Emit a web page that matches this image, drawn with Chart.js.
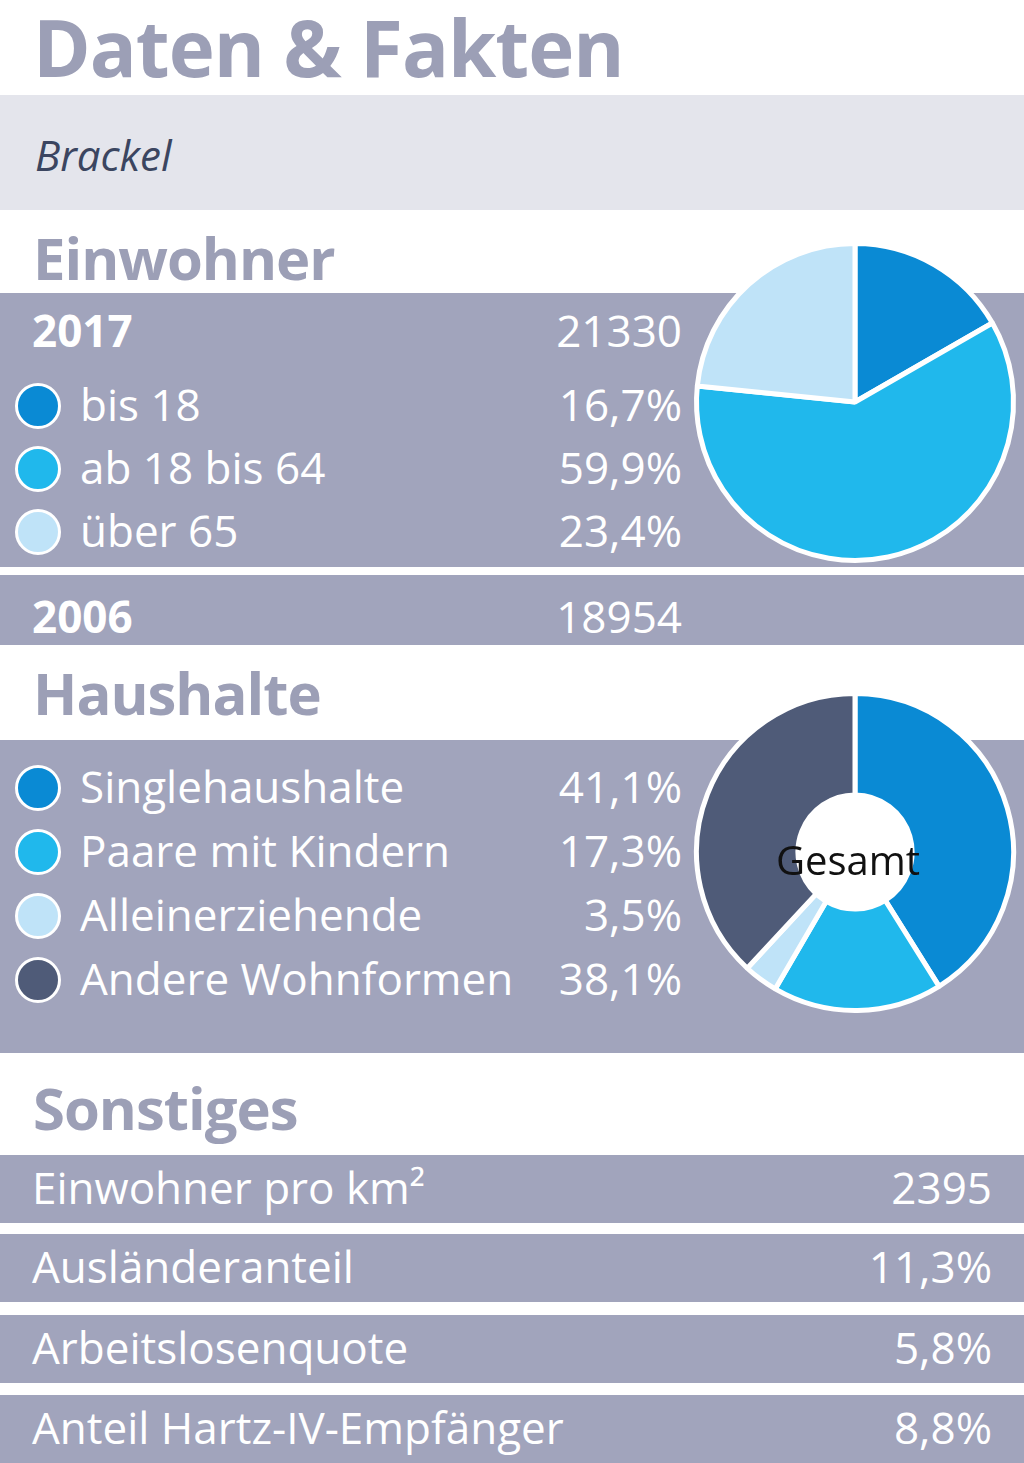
<!DOCTYPE html>
<html><head><meta charset="utf-8">
<script src="https://cdn.jsdelivr.net/npm/chart.js@4/dist/chart.umd.min.js"></script>
<style>
body{margin:0;width:1024px;height:1463px;background:#fff;font-family:"Open Sans","Noto Sans",sans-serif;position:relative;overflow:hidden}
.abs{position:absolute}
.h{color:#9c9fb6;font-weight:700;font-size:58px;left:33px;letter-spacing:-1px}
.band{background:#a1a4bc;left:0;width:1024px}
.w{color:#fff;font-size:44px;position:absolute;white-space:nowrap}
.dot{position:absolute;width:40px;height:40px;border-radius:50%;border:3px solid #fff;left:15px}
</style></head><body>
<div class="abs h" style="top:-6px;font-size:78px">Daten &amp; Fakten</div>
<div class="abs" style="top:95px;height:115px;left:0;width:1024px;background:#e4e5ec"></div>
<div class="abs" style="top:126px;left:35px;font-size:42px;font-style:italic;color:#3b4560">Brackel</div>
<div class="abs h" style="top:218px">Einwohner</div>
<div class="abs band" style="top:293px;height:274px"></div>
<div class="abs band" style="top:575px;height:70px"></div>
<div class="abs h" style="top:653px">Haushalte</div>
<div class="abs band" style="top:740px;height:313px"></div>
<div class="abs h" style="top:1068px">Sonstiges</div>
<div id="txt"></div>
<div class="abs" style="left:797px;top:795px;width:116px;height:116px;border-radius:50%;background:#fff"></div>
<canvas id="pie1" class="abs" width="330" height="330" style="left:690px;top:237px"></canvas>
<canvas id="pie2" class="abs" width="330" height="330" style="left:690px;top:687px"></canvas>
<div class="abs" style="left:776px;top:832px;font-size:40px;color:#111">Gesamt</div>
<script>
const ageLabels = ['bis 18', 'ab 18 bis 64', 'über 65'];
const ageValues = [16.7, 59.9, 23.4];
const ageColors = ['#0a8ad4', '#20b8ec', '#bfe3f8'];
const pop2017 = '21330';
const pop2006 = '18954';
const hhLabels = ['Singlehaushalte', 'Paare mit Kindern', 'Alleinerziehende', 'Andere Wohnformen'];
const hhValues = [41.1, 17.3, 3.5, 38.1];
const hhColors = ['#0a8ad4', '#20b8ec', '#bfe3f8', '#4f5b78'];
const otherLabels = ['Einwohner pro km²', 'Ausländeranteil', 'Arbeitslosenquote', 'Anteil Hartz-IV-Empfänger'];
const otherValues = ['2395', '11,3%', '5,8%', '8,8%'];

const fmt = v => v.toFixed(1).replace('.', ',') + '%';
let html = '';
html += `<div class="w" style="left:32px;top:300px;font-weight:700">2017</div><div class="w" style="right:342px;top:300px">${pop2017}</div>`;
html += `<div class="w" style="left:32px;top:586px;font-weight:700">2006</div><div class="w" style="right:342px;top:586px">${pop2006}</div>`;
ageLabels.forEach((l, i) => {
  const y = 378 + i * 63;
  html += `<div class="dot" style="top:${y + 5}px;background:${ageColors[i]}"></div>`;
  html += `<div class="w" style="left:80px;top:${y - 4}px">${l}</div><div class="w" style="right:342px;top:${y - 4}px">${fmt(ageValues[i])}</div>`;
});
hhLabels.forEach((l, i) => {
  const y = 760 + i * 64;
  html += `<div class="dot" style="top:${y + 5}px;background:${hhColors[i]}"></div>`;
  html += `<div class="w" style="left:80px;top:${y - 4}px">${l}</div><div class="w" style="right:342px;top:${y - 4}px">${fmt(hhValues[i])}</div>`;
});
const barTops = [1155, 1234, 1315, 1395];
otherLabels.forEach((l, i) => {
  const t = barTops[i];
  html += `<div class="abs band" style="top:${t}px;height:68px"></div>`;
  html += `<div class="w" style="left:32px;top:${t + 2}px">${l}</div><div class="w" style="right:32px;top:${t + 2}px">${otherValues[i]}</div>`;
});
document.getElementById('txt').innerHTML = html;

const opts = {responsive: false, animation: false, layout: {padding: 4},
  plugins: {legend: {display: false}, tooltip: {enabled: false}}};
new Chart(document.getElementById('pie1'), {
  type: 'pie',
  data: {labels: ageLabels, datasets: [{data: ageValues, backgroundColor: ageColors, borderColor: '#fff', borderWidth: 5}]},
  options: opts
});
new Chart(document.getElementById('pie2'), {
  type: 'doughnut',
  data: {labels: hhLabels, datasets: [{data: hhValues, backgroundColor: hhColors, borderColor: '#fff', borderWidth: 5}]},
  options: {...opts, cutout: '36%'}
});
</script>
</body></html>
